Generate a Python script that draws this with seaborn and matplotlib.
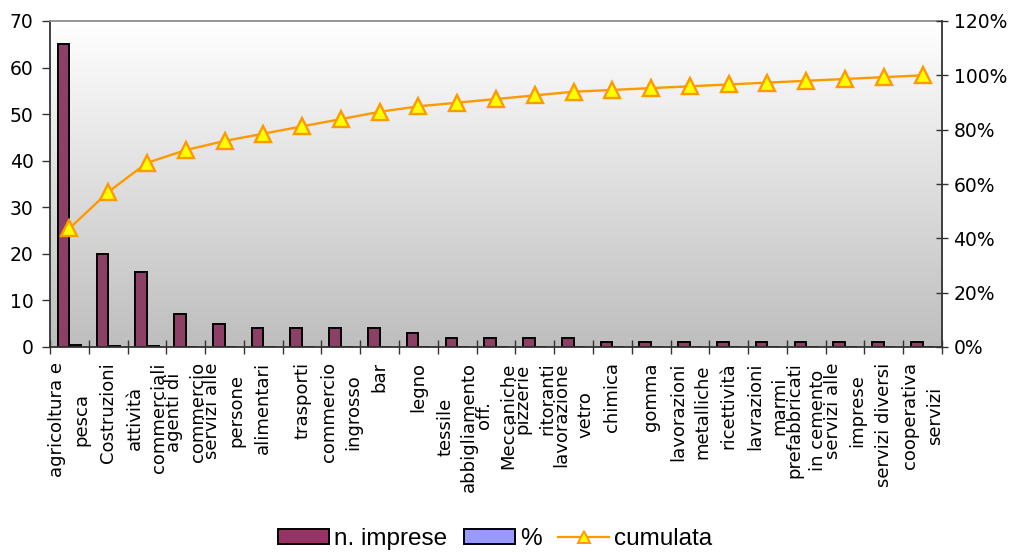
import numpy as np
import pandas as pd
import matplotlib
matplotlib.use("Agg")
import matplotlib.pyplot as plt
from matplotlib.colors import LinearSegmentedColormap
from matplotlib.patches import Patch
from matplotlib.lines import Line2D
from matplotlib.ticker import PercentFormatter
import seaborn as sns

# --- data -----------------------------------------------------------------
settori = [
    "agricoltura e pesca", "Costruzioni", "attività commerciali",
    "agenti di commercio", "servizi alle persone", "alimentari", "trasporti",
    "commercio ingrosso", "bar", "legno", "tessile abbigliamento",
    "off. Meccaniche", "pizzerie ritoranti", "lavorazione vetro", "chimica",
    "gomma", "lavorazioni metalliche", "ricettività", "lavrazioni marmi",
    "prefabbricati in cemento", "servizi alle imprese", "servizi diversi",
    "cooperativa servizi",
]
etichette = [
    "agricoltura e\npesca", "Costruzioni", "attività\ncommerciali",
    "agenti di\ncommercio", "servizi alle\npersone", "alimentari", "trasporti",
    "commercio\ningrosso", "bar", "legno", "tessile\nabbigliamento",
    "off.\nMeccaniche", "pizzerie\nritoranti", "lavorazione\nvetro", "chimica",
    "gomma", "lavorazioni\nmetalliche", "ricettività", "lavrazioni\nmarmi",
    "prefabbricati\nin cemento", "servizi alle\nimprese", "servizi diversi",
    "cooperativa\nservizi",
]
n_imprese = [65, 20, 16, 7, 5, 4, 4, 4, 4, 3, 2, 2, 2, 2, 1, 1, 1, 1, 1, 1, 1, 1, 1]
percentuale = [0.4362, 0.1342, 0.1074, 0.0470, 0.0336, 0.0268, 0.0268, 0.0268,
               0.0268, 0.0201, 0.0134, 0.0134, 0.0134, 0.0134, 0.0067, 0.0067,
               0.0067, 0.0067, 0.0067, 0.0067, 0.0067, 0.0067, 0.0067]
cumulata = [0.4362, 0.5705, 0.6779, 0.7248, 0.7584, 0.7852, 0.8121, 0.8389,
            0.8658, 0.8859, 0.8993, 0.9128, 0.9262, 0.9396, 0.9463, 0.9530,
            0.9597, 0.9664, 0.9732, 0.9799, 0.9866, 0.9933, 1.0000]

COL_IMPRESE = "#993366"
COL_PERC = "#9999FF"
COL_LINE = "#FF9900"
COL_MARK = "#FFFF00"
AX_COL = "#333333"

plt.rcParams["font.family"] = ["DejaVu Sans"]

n = len(settori)
barre = pd.DataFrame({
    "settore": settori * 2,
    "valore": n_imprese + percentuale,
    "serie": ["n. imprese"] * n + ["%"] * n,
})
linea = pd.DataFrame({"pos": np.arange(n), "cumulata": cumulata})

fig = plt.figure(figsize=(10.13, 5.52), dpi=100)
ax = fig.add_axes([50 / 1013, 1 - 347 / 552, (942 - 50) / 1013, (347 - 21) / 552])

# plot-area gradient: white at the top fading to light grey
grad = np.linspace(1, 0, 256).reshape(-1, 1)
cmap = LinearSegmentedColormap.from_list("bg", ["#BEBEBE", "#FFFFFF"])
ax.imshow(grad, extent=(0, 1, 0, 1), transform=ax.transAxes, aspect="auto",
          cmap=cmap, zorder=0, interpolation="bicubic")

sns.barplot(data=barre, x="settore", y="valore", hue="serie", order=settori,
            hue_order=["n. imprese", "%"],
            palette={"n. imprese": COL_IMPRESE, "%": COL_PERC},
            width=0.6, edgecolor="black", linewidth=1.4, errorbar=None,
            legend=False, ax=ax, zorder=2)

ax.set_xlim(-0.5, n - 0.5)
ax.set_ylim(0, 70)
ax.set_yticks(np.arange(0, 71, 10))
ax.set_xticks(np.arange(n))
ax.set_xticklabels(etichette, rotation=90, ha="center", va="top",
                   multialignment="center", linespacing=1.45, fontsize=13)
ax.set_xticks(np.arange(-0.5, n), minor=True)
ax.tick_params(axis="x", which="major", length=0, pad=11)
ax.tick_params(axis="x", which="minor", direction="inout", length=9.4,
               width=1, color=AX_COL)
ax.tick_params(axis="y", direction="out", length=5.8, width=1, color=AX_COL,
               labelsize=13.5, pad=6)
ax.set_xlabel("")
ax.set_ylabel("")
ax.grid(False)
for s in ("left", "bottom"):
    ax.spines[s].set_color(AX_COL)
    ax.spines[s].set_linewidth(1.3)
ax.spines["top"].set_color("#8C8C8C")
ax.spines["top"].set_linewidth(1.3)
ax.spines["right"].set_visible(False)

# cumulative share on the secondary axis
ax2 = ax.twinx()
sns.lineplot(data=linea, x="pos", y="cumulata", ax=ax2, color=COL_LINE,
             linewidth=1.7, marker="^", markersize=12,
             markerfacecolor=COL_MARK, markeredgecolor=COL_LINE,
             markeredgewidth=1.7, legend=False, zorder=3)
ax2.set_ylim(0, 1.2)
ax2.set_yticks(np.arange(0, 1.21, 0.2))
ax2.yaxis.set_major_formatter(PercentFormatter(1.0, decimals=0))
ax2.tick_params(axis="y", direction="inout", length=8.6, width=1,
                color=AX_COL, labelsize=13.5, pad=4)
ax2.set_ylabel("")
ax2.set_xlabel("")
for s in ("left", "top", "bottom"):
    ax2.spines[s].set_visible(False)
ax2.spines["right"].set_color(AX_COL)
ax2.spines["right"].set_linewidth(1.3)
ax2.set_xlim(-0.5, n - 0.5)

handles = [
    Patch(facecolor=COL_IMPRESE, edgecolor="black", linewidth=1.4),
    Patch(facecolor=COL_PERC, edgecolor="black", linewidth=1.4),
    Line2D([], [], color=COL_LINE, linewidth=1.6, marker="^", markersize=9,
           markerfacecolor=COL_MARK, markeredgecolor=COL_LINE,
           markeredgewidth=1.4),
]
fig.legend(handles, ["n. imprese", "%", "cumulata"], loc="center",
           bbox_to_anchor=(495 / 1013, 1 - 539 / 552), ncol=3, frameon=False,
           prop={"family": "Liberation Sans", "size": 17.5},
           handlelength=2.1, handleheight=0.6, handletextpad=0.2,
           columnspacing=0.7)

fig.savefig("out.png", dpi=100)
